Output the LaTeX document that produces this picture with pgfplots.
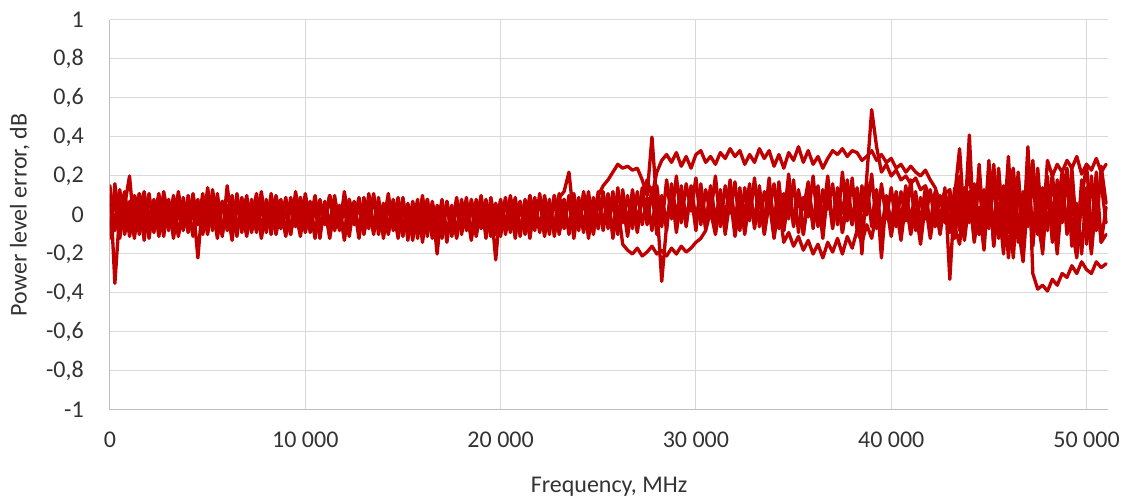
\documentclass[border=0pt]{standalone}
\usepackage{pgfplots}
\usepackage{pgfplotstable}
\pgfplotsset{compat=1.18}
\usepackage{fontspec}
\setmainfont{Carlito}
\definecolor{ser}{HTML}{C00000}
\definecolor{gridc}{HTML}{D9D9D9}
\definecolor{axc}{HTML}{BFBFBF}
\definecolor{txt}{HTML}{333333}
\pgfplotsset{myline/.style={draw=ser, line width=2.5pt, line join=round, line cap=round, solid, mark=none}}
\pgfplotstableread{
x a b c d e f
0 0.05 -0.10 0.15 -0.05 0.10 -0.12
250 -0.08 0.12 -0.35 0.08 -0.06 0.16
500 0.10 -0.05 0.02 -0.12 0.13 -0.04
750 -0.04 0.09 0.12 0.05 -0.10 0.06
1000 0.07 -0.11 -0.06 0.20 0.04 -0.09
1250 -0.10 0.04 0.08 -0.08 -0.12 0.10
1500 0.03 0.11 -0.10 0.06 0.09 -0.03
1750 0.12 -0.07 0.05 -0.13 -0.02 0.08
2000 -0.06 0.02 -0.12 0.09 0.11 -0.10
2250 0.08 -0.09 0.07 -0.02 -0.08 0.05
2500 -0.11 0.10 -0.03 0.11 0.05 -0.07
2750 0.04 -0.04 0.10 -0.09 -0.11 0.12
3000 -0.07 0.07 -0.08 0.04 0.08 -0.02
3250 0.10 -0.12 0.04 -0.06 -0.04 0.07
3500 -0.02 0.05 -0.10 0.12 0.10 -0.11
3750 0.06 -0.08 0.09 -0.04 -0.07 0.03
4000 -0.09 0.10 -0.05 0.07 0.02 -0.08
4250 0.11 -0.02 0.06 -0.11 -0.10 0.09
4500 -0.05 0.08 -0.22 0.03 0.07 -0.05
4750 0.03 -0.10 0.08 -0.07 -0.03 0.11
5000 -0.10 0.04 -0.04 0.14 0.10 -0.09
5250 0.13 -0.06 0.10 -0.03 -0.08 0.04
5500 -0.03 0.11 -0.09 0.08 0.03 -0.12
5750 0.07 -0.09 0.05 -0.10 -0.11 0.07
6000 -0.08 0.03 -0.02 0.05 0.15 -0.03
6250 0.05 -0.13 0.09 -0.08 -0.05 0.10
6500 -0.11 0.07 -0.07 0.11 0.06 -0.07
6750 0.09 -0.03 0.04 -0.05 -0.09 0.05
7000 -0.04 0.10 -0.11 0.03 0.08 -0.10
7250 0.06 -0.08 0.07 -0.09 -0.02 0.08
7500 -0.09 0.05 -0.03 0.07 0.11 -0.04
7750 0.04 -0.11 0.12 -0.12 -0.07 0.06
8000 -0.07 0.08 -0.06 0.04 0.04 -0.09
8250 0.10 -0.04 0.05 -0.06 -0.10 0.11
8500 -0.02 0.09 -0.10 0.10 0.06 -0.05
8750 0.08 -0.07 0.03 -0.02 -0.04 0.03
9000 -0.10 0.02 -0.08 0.08 0.09 -0.11
9250 0.05 -0.10 0.09 -0.10 -0.08 0.07
9500 -0.06 0.12 -0.02 0.05 0.02 -0.03
9750 0.09 -0.03 0.06 -0.07 -0.11 0.09
10000 -0.03 0.06 -0.09 0.11 0.07 -0.08
10250 0.07 -0.09 0.04 -0.04 -0.03 0.04
10500 -0.11 0.04 -0.12 0.06 0.10 -0.10
10750 0.04 -0.12 0.08 -0.09 -0.06 0.06
11000 -0.05 0.07 -0.03 0.03 0.05 -0.04
11250 0.10 -0.05 0.10 -0.11 -0.12 0.10
11500 -0.08 0.10 -0.06 0.08 0.04 -0.07
11750 0.02 -0.07 0.05 -0.03 -0.08 0.03
12000 -0.09 0.03 -0.13 0.09 0.12 -0.12
12250 0.08 -0.11 0.06 -0.07 -0.04 0.08
12500 -0.04 0.06 -0.02 0.04 0.07 -0.05
12750 0.06 -0.08 0.09 -0.12 -0.10 0.05
13000 -0.10 0.09 -0.07 0.06 0.03 -0.09
13250 0.03 -0.04 0.04 -0.05 -0.07 0.11
13500 -0.07 0.11 -0.10 0.10 0.09 -0.06
13750 0.09 -0.10 0.07 -0.08 -0.05 0.04
14000 -0.12 0.05 -0.04 0.03 0.06 -0.10
14250 0.05 -0.06 0.11 -0.10 -0.09 0.07
14500 -0.06 0.08 -0.08 0.07 0.02 -0.03
14750 0.07 -0.12 0.03 -0.04 -0.11 0.09
15000 -0.09 0.04 -0.11 0.09 0.08 -0.08
15250 0.04 -0.09 0.06 -0.13 -0.05 0.05
15500 -0.13 0.07 -0.05 0.05 0.04 -0.11
15750 0.06 -0.05 0.08 -0.09 -0.12 0.03
16000 -0.05 0.10 -0.14 0.04 0.07 -0.07
16250 0.08 -0.08 0.05 -0.11 -0.06 0.08
16500 -0.10 0.03 -0.09 0.07 0.05 -0.12
16750 0.03 -0.11 0.04 -0.06 -0.20 0.05
17000 -0.08 0.06 -0.12 0.08 0.06 -0.06
17250 0.07 -0.14 0.07 -0.10 -0.09 0.04
17500 -0.11 0.05 -0.06 0.03 0.03 -0.10
17750 0.04 -0.09 0.09 -0.12 -0.11 0.07
18000 -0.06 0.08 -0.10 0.06 0.05 -0.05
18250 0.09 -0.06 0.03 -0.08 -0.07 0.03
18500 -0.12 0.04 -0.13 0.05 0.08 -0.09
18750 0.05 -0.10 0.06 -0.11 -0.04 0.08
19000 -0.07 0.09 -0.04 0.04 0.10 -0.06
19250 0.06 -0.12 0.08 -0.09 -0.08 0.04
19500 -0.10 0.05 -0.09 0.09 0.03 -0.11
19750 0.03 -0.23 0.05 -0.05 -0.10 0.06
20000 -0.05 0.06 -0.11 0.08 0.07 -0.04
20250 0.08 -0.08 0.07 -0.10 -0.05 0.09
20500 -0.09 0.10 -0.05 0.05 0.09 -0.08
20750 0.05 -0.06 0.09 -0.12 -0.09 0.05
21000 -0.11 0.07 -0.08 0.07 0.04 -0.10
21250 0.07 -0.10 0.04 -0.06 -0.07 0.08
21500 -0.04 0.05 -0.12 0.10 0.10 -0.05
21750 0.09 -0.08 0.06 -0.04 -0.03 0.07
22000 -0.08 0.11 -0.07 0.08 0.08 -0.09
22250 0.05 -0.05 0.10 -0.11 -0.10 0.06
22500 -0.10 0.08 -0.04 0.06 0.05 -0.06
22750 0.10 -0.11 0.08 -0.08 -0.06 0.10
23000 -0.06 0.06 -0.10 0.11 0.09 -0.04
23250 0.08 -0.07 0.05 -0.05 0.12 0.08
23500 -0.09 0.10 -0.08 0.09 0.22 -0.10
23750 0.06 -0.10 0.11 -0.12 -0.02 0.07
24000 -0.04 0.07 -0.05 0.06 0.09 -0.08
24250 0.11 -0.06 0.09 -0.09 -0.08 0.12
24500 -0.08 0.12 -0.12 0.10 0.06 -0.05
24750 0.07 -0.09 0.06 -0.03 -0.10 0.09
25000 -0.05 0.08 -0.07 0.12 0.10 -0.07
25250 0.12 -0.05 0.10 -0.08 0.15 0.11
25500 -0.07 0.11 -0.03 0.08 0.18 -0.06
25750 0.09 -0.12 0.12 -0.10 0.22 0.08
26000 -0.05 0.05 -0.08 0.14 0.26 -0.10
26250 0.10 -0.15 0.07 -0.04 0.24 0.13
26500 -0.09 -0.18 -0.11 0.10 0.25 -0.04
26750 0.13 -0.20 0.06 -0.07 0.23 0.10
27000 -0.03 -0.17 -0.09 0.12 0.24 -0.08
27250 0.09 -0.21 0.11 -0.05 0.18 0.14
27500 0.18 -0.19 -0.05 0.09 0.10 -0.03
27750 0.10 -0.16 0.14 -0.08 0.40 0.12
28000 0.22 -0.20 -0.02 0.15 0.05 -0.10
28250 0.28 -0.18 0.10 -0.06 -0.34 0.09
28500 0.31 -0.21 -0.08 0.18 -0.05 -0.04
28750 0.27 -0.17 0.16 -0.02 0.12 0.13
29000 0.32 -0.20 0.00 0.20 -0.06 -0.09
29250 0.25 -0.16 0.12 -0.04 0.15 0.10
29500 0.30 -0.19 -0.06 0.16 -0.02 -0.05
29750 0.24 -0.17 0.15 0.02 0.11 0.14
30000 0.31 -0.14 -0.04 0.19 -0.08 -0.02
30250 0.33 -0.12 0.10 -0.05 0.16 0.12
30500 0.27 -0.08 -0.07 0.13 -0.03 -0.07
30750 0.30 0.02 0.14 0.00 0.10 0.15
31000 0.26 -0.10 -0.02 0.20 -0.09 -0.04
31250 0.32 0.08 0.11 -0.06 0.13 0.10
31500 0.29 -0.06 -0.08 0.15 -0.02 -0.10
31750 0.34 0.10 0.16 0.01 0.18 0.08
32000 0.30 -0.11 -0.04 0.17 -0.06 -0.03
32250 0.33 0.06 0.12 -0.08 0.12 0.14
32500 0.26 -0.08 -0.10 0.14 0.00 -0.08
32750 0.31 0.12 0.09 -0.03 0.16 0.11
33000 0.27 -0.04 -0.05 0.19 -0.07 -0.02
33250 0.34 0.09 0.15 -0.06 0.10 0.13
33500 0.29 -0.10 -0.09 0.12 -0.04 -0.09
33750 0.33 0.07 0.13 0.02 0.19 0.07
34000 0.25 -0.12 -0.03 0.16 -0.08 -0.04
34250 0.31 0.05 0.10 -0.07 0.14 0.17
34500 0.24 -0.14 -0.08 0.11 -0.02 -0.08
34750 0.32 -0.09 0.14 -0.02 0.21 0.10
35000 0.28 -0.16 -0.06 0.18 -0.05 -0.03
35250 0.35 -0.11 0.11 -0.09 0.12 0.13
35500 0.27 -0.18 -0.10 0.09 0.03 -0.10
35750 0.33 -0.13 0.16 -0.01 0.17 0.08
36000 0.26 -0.20 -0.03 0.20 -0.07 -0.05
36250 0.30 -0.15 0.09 -0.06 0.11 0.15
36500 0.24 -0.22 -0.12 0.13 -0.01 -0.07
36750 0.29 -0.14 0.13 0.03 0.20 0.09
37000 0.33 -0.19 -0.07 0.16 -0.06 -0.02
37250 0.31 -0.12 0.10 -0.05 0.14 0.12
37500 0.34 -0.20 -0.09 0.22 0.01 -0.09
37750 0.30 -0.11 0.15 -0.03 0.18 0.06
38000 0.33 -0.17 -0.05 0.19 -0.04 -0.05
38250 0.32 -0.08 0.12 -0.08 0.13 0.14
38500 0.28 -0.14 -0.20 0.15 0.02 -0.06
38750 0.30 -0.05 0.20 0.00 0.17 0.10
39000 0.33 -0.12 0.54 0.21 -0.06 -0.03
39250 0.28 0.02 0.35 -0.07 0.12 0.13
39500 0.31 -0.09 0.22 0.16 -0.22 -0.08
39750 0.27 0.05 0.26 -0.02 0.10 0.09
40000 0.29 -0.11 0.20 0.14 -0.08 -0.04
40250 0.24 0.04 0.23 -0.06 0.12 0.11
40500 0.26 -0.13 0.18 0.12 -0.03 -0.07
40750 0.22 0.07 0.20 -0.03 0.15 0.10
41000 0.25 -0.10 0.16 0.18 -0.09 -0.02
41250 0.22 0.03 0.19 -0.08 0.10 0.12
41500 0.20 -0.15 0.13 0.09 -0.04 -0.08
41750 0.23 0.06 0.15 -0.02 0.14 0.08
42000 0.18 -0.12 0.08 0.13 -0.07 -0.04
42250 0.14 0.05 0.11 -0.06 0.09 0.12
42500 0.06 -0.10 -0.04 0.10 -0.02 -0.08
42750 0.12 0.08 0.07 -0.04 0.11 0.14
43000 -0.05 0.06 -0.09 0.12 0.13 -0.33
43250 0.10 -0.12 0.14 -0.07 -0.06 0.10
43500 -0.08 0.10 0.02 0.20 -0.15 0.34
43750 0.14 -0.09 -0.13 -0.05 0.08 -0.05
44000 -0.04 0.12 0.08 0.10 0.22 0.41
44250 0.16 -0.14 0.15 -0.12 -0.04 -0.12
44500 -0.10 0.04 -0.10 0.22 0.18 0.26
44750 0.13 -0.18 -0.02 -0.08 -0.12 -0.10
45000 -0.07 0.16 0.20 0.15 0.05 0.28
45250 0.18 -0.08 -0.16 -0.14 0.26 -0.16
45500 -0.12 0.20 0.06 0.24 -0.08 0.22
45750 0.15 -0.15 -0.20 -0.10 0.14 -0.08
46000 -0.09 0.09 0.12 0.18 -0.22 0.30
46250 0.20 -0.22 0.24 -0.16 0.06 -0.14
46500 -0.14 0.14 -0.06 0.22 0.20 0.18
46750 0.12 -0.06 -0.24 -0.12 -0.10 -0.20
47000 -0.06 0.22 0.10 0.35 0.24 0.33
47250 0.19 -0.10 0.28 -0.30 -0.16 -0.15
47500 -0.10 0.08 -0.04 -0.38 0.12 0.24
47750 0.14 -0.20 -0.18 -0.36 -0.06 -0.08
48000 -0.08 0.15 0.14 -0.39 0.20 0.28
48250 0.22 -0.12 0.04 -0.33 -0.14 0.20
48500 -0.12 0.18 -0.20 -0.36 0.02 0.26
48750 0.16 -0.04 0.10 -0.30 0.22 0.22
49000 -0.07 0.20 0.24 -0.32 -0.10 0.28
49250 0.24 -0.16 -0.06 -0.26 0.12 0.24
49500 -0.10 0.06 -0.22 -0.30 -0.18 0.30
49750 0.12 -0.20 0.08 -0.24 0.18 0.21
50000 -0.15 0.14 0.26 -0.28 0.04 0.26
50250 0.20 -0.10 -0.08 -0.30 -0.20 0.23
50500 -0.08 0.22 0.12 -0.24 0.10 0.29
50750 0.25 -0.14 -0.14 -0.27 0.16 0.22
51000 0.06 0.04 -0.10 -0.25 -0.04 0.26
}\data
\begin{document}
\begin{tikzpicture}
\path (-82.5pt,-69pt) rectangle (765pt,307.5pt);
\begin{axis}[
  at={(0,0)}, anchor=south west,
  scale only axis, width=748.5pt, height=292.5pt,
  xmin=0, xmax=51100, ymin=-1, ymax=1,
  axis x line=bottom, axis y line=left,
  axis line style={draw=axc, line width=0.75pt, -},
  scaled ticks=false,
  xtick={0,10000,20000,30000,40000,50000},
  xticklabels={0,10 000,20 000,30 000,40 000,50 000},
  ytick={-1,-0.8,...,1.01},
  yticklabels={{-1},{-0,8},{-0,6},{-0,4},{-0,2},{0},{0,2},{0,4},{0,6},{0,8},{1}},
  major tick length=0pt,
  grid=major,
  major grid style={draw=gridc, line width=0.75pt},
  tick label style={font=\fontsize{18pt}{21pt}\selectfont, text=txt, inner sep=0pt},
  x tick label style={anchor=north, yshift=-16.5pt},
  y tick label style={anchor=east, xshift=-19.5pt},
  label style={font=\fontsize{18pt}{21pt}\selectfont, text=txt, inner sep=0pt},
  xlabel={Frequency, MHz},
  ylabel={Power level error, dB},
  xlabel style={at={(axis description cs:0.5,-0.1718)}, anchor=north},
  ylabel style={at={(axis description cs:-0.0802,0.5)}, anchor=south},
]
\addplot[myline] table[x=x,y=a]{\data};
\addplot[myline] table[x=x,y=b]{\data};
\addplot[myline] table[x=x,y=c]{\data};
\addplot[myline] table[x=x,y=d]{\data};
\addplot[myline] table[x=x,y=e]{\data};
\addplot[myline] table[x=x,y=f]{\data};
\end{axis}
\end{tikzpicture}
\end{document}
